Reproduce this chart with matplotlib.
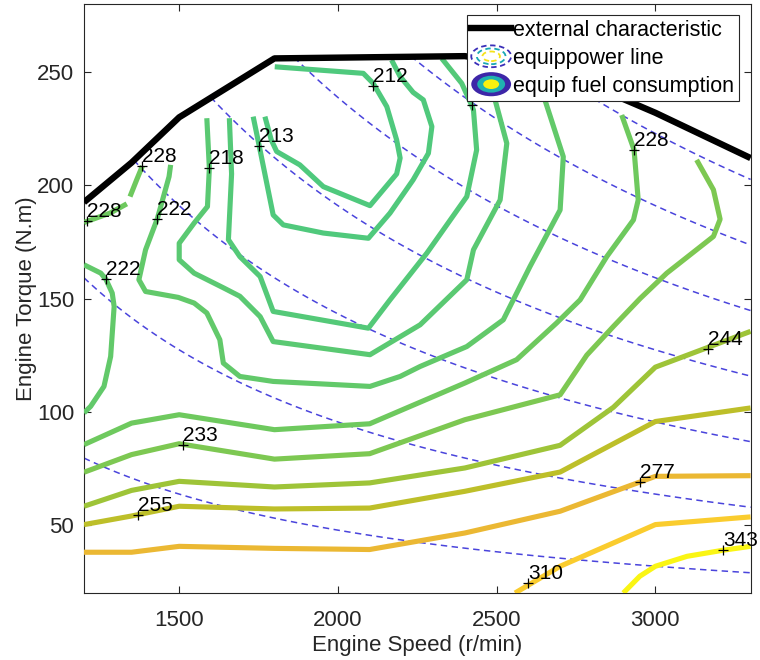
import numpy as np
import matplotlib
matplotlib.use('Agg')
import matplotlib.pyplot as plt
from matplotlib.colors import LinearSegmentedColormap, Normalize
from matplotlib.legend_handler import HandlerBase
from matplotlib.lines import Line2D
from matplotlib.patches import Ellipse

plt.rcParams['font.family'] = ['Liberation Sans', 'DejaVu Sans']

# external characteristic (full load torque)
ext_speed = [1200, 1350, 1500, 1800, 2100, 2400, 2700, 3000, 3300]
ext_torque = [192.5, 210, 230, 256, 256.5, 257, 250, 232, 212]

# equal power lines, kW
power_levels = [10, 20, 30, 40, 50, 60, 70]

# fuel consumption iso-lines, g/kWh
iso_level = [212, 213, 215, 218, 222, 222, 228, 228, 228, 233, 244, 255, 277, 310, 343]
iso_speed = [
    [1801, 2080, 2111, 2154, 2185, 2196, 2185, 2101, 1954, 1880, 1807, 1790, 1770],
    [1733, 1752, 1796, 1828, 1954, 2096, 2164, 2237, 2285, 2296, 2269, 2237, 2196, 2169],
    [1658, 1665, 1655, 1691, 1755, 1796, 2096, 2164, 2280, 2406, 2437, 2427, 2421, 2390, 2327],
    [1587, 1595, 1589, 1547, 1500, 1500, 1547, 1641, 1691, 1755, 1796, 2101, 2259, 2406, 2427,
     2511, 2532, 2495, 2460],
    [1473, 1468, 1431, 1394, 1373, 1394, 1497, 1547, 1587, 1628, 1639, 1691, 1796, 2101, 2196,
     2259, 2406, 2521, 2605, 2700, 2710, 2652, 2610],
    [1200, 1253, 1269, 1289, 1295, 1284, 1263, 1221, 1200],
    [1384, 1366, 1345],
    [1335, 1282, 1208, 1200],
    [1200, 1350, 1500, 1800, 2100, 2400, 2563, 2689, 2763, 2847, 2931, 2946, 2933, 2894],
    [1200, 1350, 1500, 1800, 2100, 2400, 2700, 2784, 2868, 2952, 3036, 3183, 3204, 3183, 3130],
    [1200, 1350, 1500, 1800, 2100, 2400, 2700, 2868, 3000, 3300],
    [1200, 1350, 1500, 1800, 2100, 2400, 2700, 3000, 3300],
    [1200, 1350, 1500, 1800, 2100, 2400, 2700, 3000, 3300],
    [2558, 2700, 3000, 3300],
    [2899, 2951, 3000, 3100, 3214, 3300],
]
iso_torque = [
    [252.3, 249.4, 245, 234.7, 220, 212, 205, 191, 199.4, 209, 214.9, 220, 230.3],
    [230.3, 217.4, 186.9, 182.5, 178.9, 176.6, 187.7, 202.4, 214.1, 225.9, 237.7, 241, 248, 255.3],
    [229.6, 205, 176, 168.5, 159.7, 144.3, 136.9, 149.4, 170, 195, 215.6, 233.2, 235.4, 245, 256],
    [229.6, 207.5, 190.6, 183.3, 174.4, 167.1, 161.2, 154.6, 151, 142, 131, 125.2, 138.4, 158.3,
     171.5, 193.5, 218.5, 237.7, 250],
    [209, 203.8, 185.2, 171.5, 158.3, 153.1, 150.5, 148, 143.6, 131.8, 121.5, 115.6, 113.4, 111.2,
     115.6, 120, 128.8, 140.6, 164.1, 189.1, 212.6, 237.7, 252],
    [164.9, 161.2, 158.5, 152.4, 146.5, 124.4, 111.2, 102.4, 99.5],
    [208.5, 202.4, 195],
    [191.8, 187.7, 184, 183.5],
    [85.5, 95, 98.7, 92.1, 94.7, 112.7, 123, 139.2, 149.4, 168.5, 184.7, 193.5, 215.6, 231],
    [73.3, 81.1, 85.9, 79.1, 81.5, 96.5, 107.5, 125, 137.7, 150, 161.2, 177.4, 185, 198, 211.2],
    [58.3, 65.3, 69.3, 66.8, 68.6, 75.2, 85.2, 102, 119.7, 135.5],
    [50.2, 54, 58.3, 57.1, 57.5, 64.9, 73.4, 95.7, 101.7],
    [38, 38, 40.6, 39.7, 39.2, 46.5, 56.1, 71.5, 71.8],
    [20, 31.8, 50.2, 53.6],
    [20, 27.4, 31.8, 36.2, 38.9, 40.6],
]

# contour labels
label_speed = [2110, 1752, 1595, 1431, 1269, 1384, 1210, 2933, 1513, 3167, 1371, 2951, 2600, 3214]
label_torque = [243.8, 217.4, 207.5, 185.2, 158.5, 208.5, 184, 215.6, 85.5, 127.7, 54.6, 69.0, 24.2, 38.9]
label_text = ['212', '213', '218', '222', '222', '228', '228', '228', '233', '244', '255', '277', '310', '343']
hidden_label = (2421, 235.4)


class RingHandler(HandlerBase):
    def __init__(self, colors, filled):
        super().__init__()
        self.colors = colors
        self.filled = filled

    def create_artists(self, legend, orig_handle, xdescent, ydescent,
                       width, height, fontsize, trans):
        cx = 0.5 * width - xdescent
        cy = 0.5 * height - ydescent
        out = []
        for k, c in enumerate(self.colors):
            if self.filled:
                s = 1.0 - 0.3 * k
                e = Ellipse((cx, cy), width * s, height * 1.6 * s,
                            facecolor=c, edgecolor='none')
            else:
                s = 1.0 - 0.28 * k
                e = Ellipse((cx, cy), width * s, height * 1.45 * s, facecolor='none',
                            edgecolor=c, lw=1.3, linestyle=(0, (3, 2)))
            e.set_transform(trans)
            out.append(e)
        return out


cmap = LinearSegmentedColormap.from_list('bsfc', [
    (0.0, (0.31, 0.79, 0.49)),
    (0.122, (0.43, 0.79, 0.37)),
    (0.244, (0.62, 0.77, 0.22)),
    (0.328, (0.74, 0.75, 0.16)),
    (0.496, (0.92, 0.72, 0.20)),
    (0.748, (0.98, 0.80, 0.18)),
    (1.0, (0.98, 0.96, 0.08)),
])
norm = Normalize(212, 343)

fig = plt.figure(figsize=(7.6, 6.6), dpi=100)
ax = fig.add_axes([0.1105, 0.1015, 0.8771, 0.8924])

# equal power lines below the full load curve
n_grid = np.linspace(1200, 3300, 421)
t_grid = np.linspace(20, 280, 521)
N, T = np.meshgrid(n_grid, t_grid)
P = np.ma.masked_where(T > np.interp(N, ext_speed, ext_torque) + 0.5, N * T / 9550)
cs = ax.contour(N, T, P, levels=power_levels, colors='#4a44dc', linewidths=1.1, zorder=2)
cs.set_linestyle((0, (4.2, 2.9)))

for lev, sp, tq in zip(iso_level, iso_speed, iso_torque):
    ax.plot(sp, tq, color=cmap(norm(lev)), lw=3.7, solid_capstyle='butt',
            solid_joinstyle='round', zorder=3)

ax.plot(ext_speed, ext_torque, color='k', lw=4.6, solid_capstyle='butt', zorder=4)

for x, y, s in zip(label_speed, label_torque, label_text):
    ax.plot(x, y, 'k+', ms=7, mew=0.9, zorder=5)
    ax.text(x, y, s, ha='left', va='bottom', fontsize=15, color='k', zorder=5)
ax.plot(*hidden_label, 'k+', ms=7, mew=0.9, zorder=5)

ax.set_xlim(1200, 3300)
ax.set_ylim(20, 280)
ax.set_xticks([1500, 2000, 2500, 3000])
ax.set_yticks([50, 100, 150, 200, 250])
ax.tick_params(direction='in', top=True, right=True, length=5, width=0.8,
               colors='0.15', labelsize=16)
ax.tick_params(axis='x', pad=12)
ax.tick_params(axis='y', pad=7)
for sp in ax.spines.values():
    sp.set_color('0.15')
    sp.set_linewidth(0.8)
ax.set_xlabel('Engine Speed (r/min)', fontsize=16, color='0.15', labelpad=3)
ax.set_ylabel('Engine Torque (N.m)', fontsize=16, color='0.15', labelpad=0)

h_ext = Line2D([], [], color='k', lw=4.6)
h_pow = Line2D([], [])
h_fuel = Line2D([], [])
leg = ax.legend([h_ext, h_pow, h_fuel],
                ['external characteristic', 'equippower line', 'equip fuel consumption'],
                handler_map={
                    h_pow: RingHandler(['#3b2fb8', '#19a8b4', '#f5e21a'], False),
                    h_fuel: RingHandler(['#3d26a8', '#1fb1b0', '#f9f10f'], True),
                },
                loc='upper right', bbox_to_anchor=(0.9826, 0.981), borderaxespad=0,
                fontsize=15.5, fancybox=False, framealpha=1, edgecolor='0.15',
                handlelength=1.85, handletextpad=0.1, borderpad=0.22, labelspacing=0.32)
leg.get_frame().set_linewidth(0.8)
leg.set_zorder(10)

fig.savefig('out.png', dpi=100)
